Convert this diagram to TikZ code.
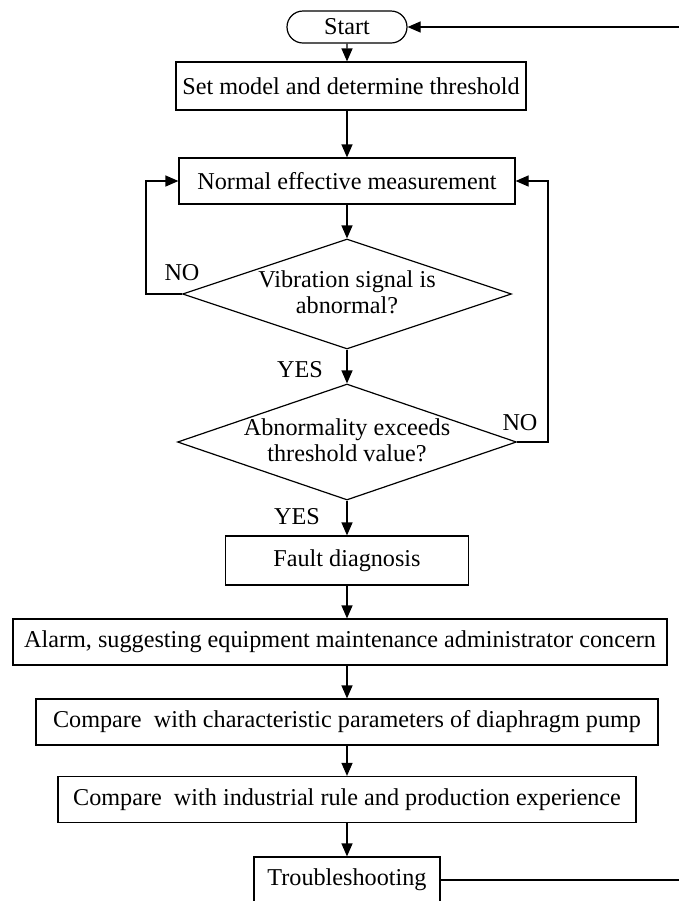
\documentclass[tikz,border=0pt]{standalone}
\usepackage{fontspec}
\setmainfont{Liberation Serif}
\usepackage{tikz}
\usetikzlibrary{arrows.meta,positioning,shapes.geometric,shapes.misc,calc}
\tikzset{
  flow/.style={-{Triangle[length=6.5pt, width=5.5pt]}, line width=0.6pt, black},
  procbox/.style={rectangle, draw, line width=0.6pt, minimum height=23pt, inner sep=0pt, font=\fontsize{12.1}{13}\selectfont},
  termbox/.style={rounded rectangle, draw, line width=0.6pt, minimum width=60pt, minimum height=16pt, inner sep=0pt, font=\fontsize{12.1}{13}\selectfont},
  decbox/.style={diamond, draw, line width=0.6pt, inner sep=0pt, font=\fontsize{12.1}{13}\selectfont},
  lbl/.style={inner sep=0pt, font=\fontsize{12.1}{13}\selectfont},
}
\newcommand{\dtext}[1]{\raisebox{-0.3em}[0pt][0pt]{\makebox[0pt]{\begin{tabular}{@{}c@{}}#1\end{tabular}}}}

\begin{document}
\begin{tikzpicture}[x=0.5pt, y=-0.5pt]
\useasboundingbox (0,0) rectangle (679,901);
% --- main column ---
\node[termbox] (start) at (347,27) {Start};
\node[procbox, minimum width=175pt, minimum height=24pt] (setmodel) at (351,86) {Set model and determine threshold};
\node[procbox, minimum width=168pt] (measure) at (347,181) {Normal effective measurement};
\node[decbox, minimum width=164.5pt, minimum height=55pt] (vib) at (347,294) {\dtext{Vibration signal is\\abnormal?}};
\node[decbox, minimum width=169.5pt, minimum height=58pt] (exceed) at (347,442) {\dtext{Abnormality exceeds\\threshold value?}};
\node[procbox, minimum width=121.5pt, minimum height=24.5pt] (fault) at (347,560.5) {Fault diagnosis};
\node[procbox, minimum width=327pt] (alarm) at (340,642) {Alarm, suggesting equipment maintenance administrator concern};
\node[procbox, minimum width=311pt] (cmppump) at (347,722) {Compare\ \ with characteristic parameters of diaphragm pump};
\node[procbox, minimum width=289pt] (cmprule) at (347,799.5) {Compare\ \ with industrial rule and production experience};
\node[procbox, minimum width=93pt] (trouble) at (347,880) {Troubleshooting};
% --- branch labels ---
\node[lbl] (no1) at (182,273) {NO};
\node[lbl] (yes1) at (300,370) {YES};
\node[lbl] (no2) at (520,423) {NO};
\node[lbl] (yes2) at (297,517) {YES};
% --- loop turning points ---
\coordinate (lloop) at (146,0);
\coordinate (rloop) at (548,0);
\coordinate (back) at (720,0);
% --- connectors ---
\draw[flow] (start) -- (start |- setmodel.north);
\draw[flow] (start |- setmodel.south) -- (measure);
\draw[flow] (measure) -- (vib);
\draw[flow] (vib) -- (exceed);
\draw[flow] (exceed) -- (fault);
\draw[flow] (fault.south) -- (fault.south |- alarm.north);
\draw[flow] (fault.south |- alarm.south) -- (cmppump);
\draw[flow] (cmppump) -- (cmprule);
\draw[flow] (cmprule) -- (trouble);
\draw[flow] (vib.west) -- (vib.west -| lloop) |- (measure.west);
\draw[flow] (exceed.east) -- (exceed.east -| rloop) |- (measure.east);
\draw[flow] (trouble.east) -- (trouble.east -| back) |- (start.east);
\end{tikzpicture}
\end{document}
